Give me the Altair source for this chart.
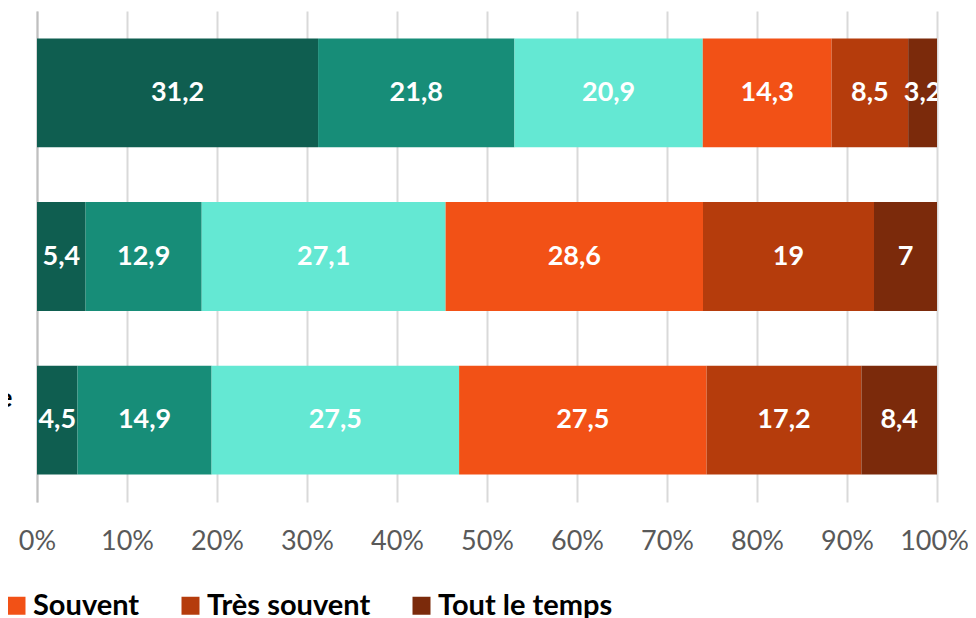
import altair as alt
import pandas as pd

categories = ["Groupe 1", "Groupe 2", "Groupe 3"]
series = ["Jamais", "Rarement", "Parfois", "Souvent", "Très souvent", "Tout le temps"]
values_1 = [31.2, 21.8, 20.9, 14.3, 8.5, 3.2]
values_2 = [5.4, 12.9, 27.1, 28.6, 19, 7]
values_3 = [4.5, 14.9, 27.5, 27.5, 17.2, 8.4]
colors = ["#0F5E50", "#178D78", "#64E8D3", "#F25116", "#B53C0C", "#7B2A0B"]
legend_shown = ["Souvent", "Très souvent", "Tout le temps"]
tick_values = [0, 0.1, 0.2, 0.3, 0.4, 0.5, 0.6, 0.7, 0.8, 0.9, 1.0]

rows = []
for cat, vals in zip(categories, [values_1, values_2, values_3]):
    for i, (s, v) in enumerate(zip(series, vals)):
        rows.append({"cat": cat, "serie": s, "order": i, "value": v,
                     "label": f"{v:g}".replace(".", ",")})
df = pd.DataFrame(rows)

FONT = "Lato"

base = alt.Chart(df).transform_stack(
    stack="value", groupby=["cat"], as_=["x0", "x1"], offset="normalize",
    sort=[alt.SortField("order", order="ascending")]
).transform_calculate(xm="(datum.x0 + datum.x1) / 2")

y_enc = alt.Y(
    "cat:N", sort=categories,
    scale=alt.Scale(paddingInner=0.335, paddingOuter=0.1675),
    axis=alt.Axis(title=None, domain=True, domainColor="#BFBFBF", domainWidth=2,
                  ticks=False, grid=False,
                  labelExpr="datum.value == 'Groupe 3' ? 'e' : ''",
                  labelPadding=25, labelOffset=-21, labelFont=FONT,
                  labelFontSize=27, labelFontWeight="bold", labelColor="#000000"),
)

bars = base.mark_bar().encode(
    y=y_enc,
    x=alt.X("x0:Q", scale=alt.Scale(domain=[0, 1], nice=False),
            axis=alt.Axis(values=tick_values, format=".0%", grid=True,
                          gridColor="#D9D9D9", gridWidth=2, domain=False,
                          ticks=False, labelFont=FONT, labelFontSize=27,
                          labelColor="#595959", labelPadding=26, title=None,
                          labelOverlap=False, labelFlush=False,
                          labelOffset=alt.condition("datum.value == 1",
                                                    alt.value(-3), alt.value(0)))),
    x2="x1:Q",
    color=alt.Color(
        "serie:N", scale=alt.Scale(domain=series, range=colors),
        legend=alt.Legend(values=legend_shown, orient="none", legendX=-35,
                          legendY=580, direction="horizontal", title=None,
                          symbolType="square", symbolSize=324,
                          symbolStrokeWidth=0, labelFont=FONT,
                          labelFontSize=29, labelFontWeight="bold",
                          labelColor="#000000", columnPadding=36,
                          labelOffset=2, padding=0, labelLimit=400)),
)

labels = base.mark_text(color="white", font=FONT, fontSize=27,
                        fontWeight="bold", clip=True).encode(
    x=alt.X("xm:Q"),
    y=alt.Y("cat:N", sort=categories),
    text="label:N",
)

chart = (bars + labels).properties(
    width=900, height=491,
    autosize=alt.AutoSizeParams(type="none"),
    padding={"left": 29, "top": 3, "right": 31, "bottom": 116},
).configure_view(stroke=None)

chart.save("out.html", embed_options={"renderer": "svg", "actions": False})
